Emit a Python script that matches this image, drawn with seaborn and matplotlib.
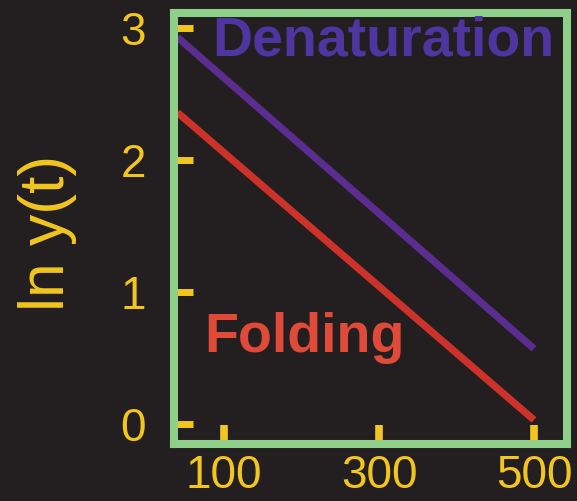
import numpy as np
import pandas as pd
import matplotlib
matplotlib.use("Agg")
import matplotlib.pyplot as plt
import seaborn as sns

# Datos
time = [40, 500]
ln_denaturation = [2.93, 0.57]
ln_folding = [2.36, 0.03]
x_ticks = [100, 300, 500]
y_ticks = [0, 1, 2, 3]

BG = "#231f20"
GREEN = "#8ecf8a"
YELLOW = "#f2c61f"
PURPLE = "#5c2d91"
PURPLE_TXT = "#4f35a0"
RED = "#cc3229"
RED_TXT = "#e04a38"

df = pd.DataFrame({
    "t": time + time,
    "lny": ln_denaturation + ln_folding,
    "proceso": ["Denaturation"] * len(time) + ["Folding"] * len(time),
})

sns.set_style("dark", {"axes.facecolor": BG, "figure.facecolor": BG})
plt.rcParams["font.family"] = ["Liberation Sans", "DejaVu Sans"]

fig = plt.figure(figsize=(5.77, 5.01), dpi=100)
ax = fig.add_axes([0.3016, 0.1138, 0.6811, 0.8602])

sns.lineplot(data=df, x="t", y="lny", hue="proceso",
             palette={"Denaturation": PURPLE, "Folding": RED},
             linewidth=5.2, legend=False, ax=ax, solid_capstyle="butt")

ax.set_xlim(35.5, 542.6)
ax.set_ylim(-0.152, 3.114)
ax.set_xticks(x_ticks)
ax.set_yticks(y_ticks)
ax.grid(False)

for s in ax.spines.values():
    s.set_visible(True)
    s.set_color(GREEN)
    s.set_linewidth(5.8)

ax.tick_params(axis="x", direction="in", length=13.5, width=5.5,
               color=YELLOW, labelcolor=YELLOW, labelsize=33, pad=7.5,
               bottom=True)
ax.tick_params(axis="y", direction="in", length=14, width=5,
               color=YELLOW, labelcolor=YELLOW, labelsize=33, pad=20,
               left=True)

ax.set_xlabel("")
ax.set_ylabel("ln y(t)", color=YELLOW, fontsize=45)
ax.yaxis.set_label_coords(-0.247, 0.49)

ax.text(0.097, 0.935, "Denaturation", transform=ax.transAxes,
        color=PURPLE_TXT, fontsize=40, fontweight="bold", va="center", ha="left")
ax.text(0.077, 0.245, "Folding", transform=ax.transAxes,
        color=RED_TXT, fontsize=40, fontweight="bold", va="center", ha="left")

plt.savefig("out.png", dpi=100, facecolor=BG)
plt.close()
